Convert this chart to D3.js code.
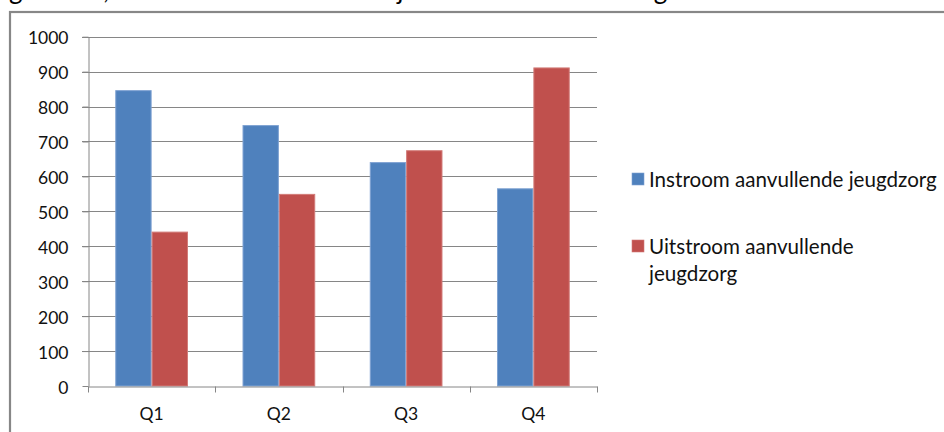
<!DOCTYPE html>
<html>
<head>
<meta charset="utf-8">
<script src="https://cdn.jsdelivr.net/npm/d3@7/dist/d3.min.js"></script>
<style>
  html, body { margin: 0; padding: 0; background: #fff; }
  svg { display: block; }
  text { font-family: Lato, "Open Sans", sans-serif; fill: #111; }
</style>
</head>
<body>
<svg id="chart" width="944" height="432"></svg>
<script>
// Quarterly in- and outflow, supplementary youth care
const categories = ["Q1", "Q2", "Q3", "Q4"];
const seriesNames = ["Instroom aanvullende jeugdzorg", "Uitstroom aanvullende jeugdzorg"];
const instroom = [847, 747, 641, 566];
const uitstroom = [442, 550, 675, 912];
const yTicks = [0, 100, 200, 300, 400, 500, 600, 700, 800, 900, 1000];
const colors = ["#4F81BD", "#C0504D"];
const edgeColors = ["#7FA2D2", "#D27B78"];

const svg = d3.select("#chart");
const W = 944, H = 432;
svg.append("rect").attr("width", W).attr("height", H).attr("fill", "#fff");

// Caption line above the chart frame (only its descenders fall inside the page)
svg.append("text").attr("x", -12).attr("y", -1)
  .style("font-size", "26px").style("fill", "#000")
  .text("Figuur 4.1, Instroom en uitstroom bij aanvullende extra zorg");

// Chart frame
svg.append("rect")
  .attr("x", 10).attr("y", 12).attr("width", W + 20).attr("height", H + 20)
  .attr("fill", "none").attr("stroke", "#878787").attr("stroke-width", 2.2);

const plot = { left: 88, right: 597, top: 36.7, bottom: 386 };

const y = d3.scaleLinear().domain([0, 1000]).range([plot.bottom, plot.top]);
const x = d3.scaleBand().domain(categories).range([plot.left, plot.right]).padding(0);
const xs = d3.scaleBand().domain([0, 1]).range([0, x.bandwidth()]).paddingInner(0).paddingOuter(0.75);

// Horizontal gridlines with short outward ticks
const grid = svg.append("g");
grid.selectAll("line").data(yTicks.filter(t => t > 0)).join("line")
  .attr("x1", plot.left - 6).attr("x2", plot.right)
  .attr("y1", d => Math.round(y(d)) + 0.5).attr("y2", d => Math.round(y(d)) + 0.5)
  .attr("stroke", "#868686").attr("stroke-width", 1);

// Bars
const data = categories.map((c, i) => ({ c, vals: [instroom[i], uitstroom[i]] }));
const groups = svg.append("g").selectAll("g").data(data).join("g")
  .attr("transform", d => `translate(${x(d.c)},0)`);
groups.selectAll("rect").data(d => d.vals.map((v, k) => ({ v, k }))).join("rect")
  .attr("x", d => xs(d.k) + 0.5)
  .attr("y", d => y(d.v) + 0.5)
  .attr("width", xs.bandwidth() - 1)
  .attr("height", d => y(0) - y(d.v) - 0.5)
  .attr("fill", d => colors[d.k])
  .attr("stroke", d => edgeColors[d.k])
  .attr("stroke-width", 1);

// Y axis
const yAxis = d3.axisLeft(y).tickValues(yTicks).tickFormat(d3.format("d"))
  .tickSize(6).tickPadding(14).tickSizeOuter(0);
const gy = svg.append("g").attr("transform", `translate(${plot.left + 0.5},0)`).call(yAxis);
gy.select(".domain").attr("stroke", "#868686");
gy.selectAll(".tick line").attr("stroke", "#868686");
gy.selectAll(".tick text").style("font-size", "17.5px").style("font-family", "Lato, sans-serif")
  .attr("fill", "#111").attr("dy", "0.4em");

// X axis
const xAxis = d3.axisBottom(x).tickSize(0).tickPadding(21).tickSizeOuter(0);
const gx = svg.append("g").attr("transform", `translate(0,${plot.bottom + 0.5})`).call(xAxis);
gx.select(".domain").attr("stroke", "#868686");
gx.selectAll(".tick text").style("font-size", "17.5px").style("font-family", "Lato, sans-serif").attr("fill", "#111");
// category boundary ticks
const bounds = categories.map(c => x(c)).concat([x(categories[categories.length - 1]) + x.bandwidth()]);
gx.selectAll(".bound").data(bounds).join("line").attr("class", "bound")
  .attr("x1", d => Math.round(d) + 0.5).attr("x2", d => Math.round(d) + 0.5)
  .attr("y1", 0).attr("y2", 6).attr("stroke", "#868686");

// Legend
const legend = svg.append("g");
const legendRows = [
  { lines: ["Instroom aanvullende jeugdzorg"], y: 187 },
  { lines: ["Uitstroom aanvullende", "jeugdzorg"], y: 254 }
];
legendRows.forEach((r, i) => {
  legend.append("rect").attr("x", 632).attr("y", r.y - 14).attr("width", 12).attr("height", 12)
    .attr("fill", colors[i]).attr("stroke", edgeColors[i]).attr("stroke-width", 0.6);
  const t = legend.append("text").attr("x", 649).attr("y", r.y).style("font-size", "20.6px");
  r.lines.forEach((ln, j) => {
    t.append("tspan").attr("x", 649).attr("y", r.y + j * 26.7).text(ln);
  });
});
</script>
</body>
</html>
